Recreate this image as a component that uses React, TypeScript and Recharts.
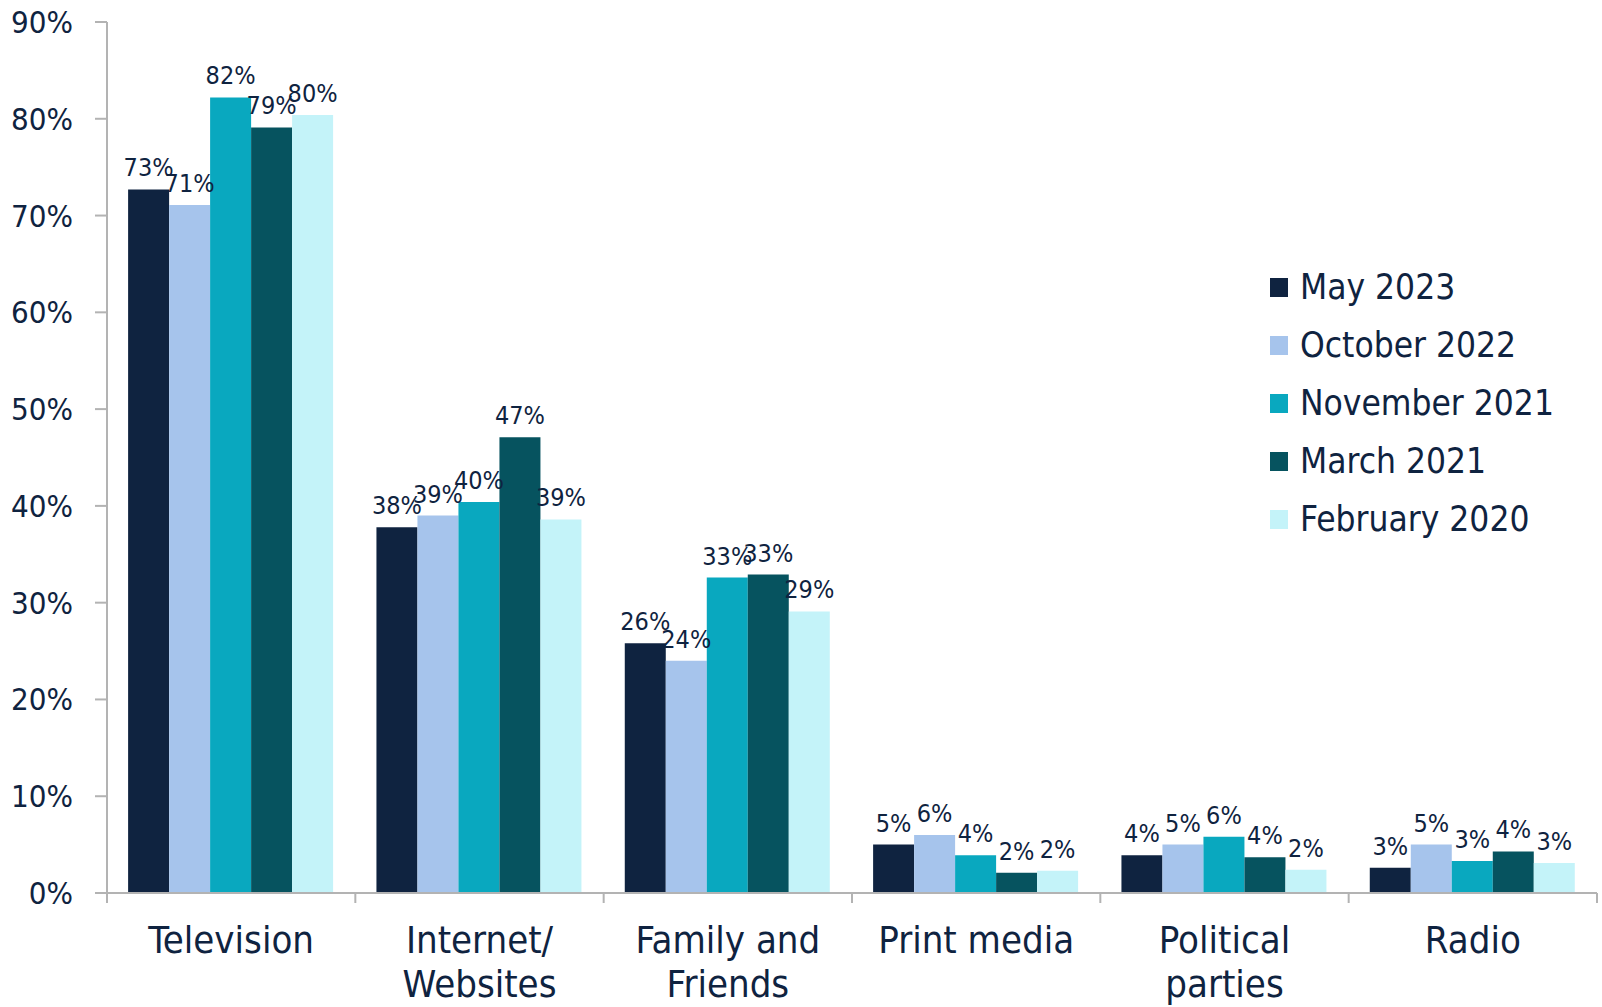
import { BarChart, Bar, XAxis, YAxis, Legend, LabelList } from 'recharts';

const categories = ['Television', 'Internet/\nWebsites', 'Family and\nFriends', 'Print media', 'Political\nparties', 'Radio'];
const may2023 = [72.7, 37.8, 25.8, 5.0, 3.9, 2.6];
const oct2022 = [71.1, 39.0, 24.0, 6.0, 5.0, 5.0];
const nov2021 = [82.2, 40.4, 32.6, 3.9, 5.8, 3.3];
const mar2021 = [79.1, 47.1, 32.9, 2.1, 3.7, 4.3];
const feb2020 = [80.4, 38.6, 29.1, 2.3, 2.4, 3.1];
const yTicks = [0, 10, 20, 30, 40, 50, 60, 70, 80, 90];

const TEXT = '#0f2340';
const AXIS = '#b3b3b3';
const FONT = "'DejaVu Sans Condensed', 'DejaVu Sans', sans-serif";

const series = [
  { key: 'may2023', name: 'May 2023', color: '#0f2340', values: may2023 },
  { key: 'oct2022', name: 'October 2022', color: '#a6c4ec', values: oct2022 },
  { key: 'nov2021', name: 'November 2021', color: '#09a8bf', values: nov2021 },
  { key: 'mar2021', name: 'March 2021', color: '#06535f', values: mar2021 },
  { key: 'feb2020', name: 'February 2020', color: '#c4f3f9', values: feb2020 },
];

const data = categories.map((name, i) => {
  const row: Record<string, string | number> = { name };
  series.forEach((s) => {
    row[s.key] = s.values[i];
  });
  return row;
});

// label plus the small tick marks between categories (Excel style)
const CategoryTick = ({ x, y, payload, index }: any) => {
  const lines = String(payload.value).split('\n');
  const half = payload.offset || 0;
  return (
    <g>
      <line x1={x - half} x2={x - half} y1={y} y2={y + 10} stroke={AXIS} strokeWidth={2} />
      {index === categories.length - 1 && (
        <line x1={x + half} x2={x + half} y1={y} y2={y + 10} stroke={AXIS} strokeWidth={2} />
      )}
      <text x={x} y={y} textAnchor="middle" fill={TEXT} fontSize={38} fontFamily={FONT}>
        {lines.map((line, i) => (
          <tspan key={i} x={x} dy={i === 0 ? 60 : 44}>
            {line}
          </tspan>
        ))}
      </text>
    </g>
  );
};

// keep legend in series order, not alphabetical
const LegendBox = ({ payload }: any) => {
  const items = [...(payload || [])].sort(
    (a: any, b: any) =>
      series.findIndex((s) => s.name === a.value) - series.findIndex((s) => s.name === b.value)
  );
  return (
    <div style={{ fontFamily: FONT }}>
      {items.map((p: any) => (
        <div key={p.value} style={{ display: 'flex', alignItems: 'center', height: 58 }}>
          <span style={{ width: 18, height: 19, background: p.color, marginRight: 12, display: 'inline-block' }} />
          <span style={{ fontSize: 35, color: TEXT, lineHeight: 1 }}>{p.value}</span>
        </div>
      ))}
    </div>
  );
};

export default function App() {
  return (
    <div style={{ position: 'absolute', left: 0, top: 0, fontFamily: FONT, fontStretch: 'condensed' }}>
      <BarChart
        width={1602}
        height={1007}
        data={data}
        margin={{ top: 22, right: 5, bottom: 0, left: 0 }}
        barCategoryGap="8.5%"
        barGap={0}
      >
        <XAxis
          dataKey="name"
          interval={0}
          tickLine={false}
          tickSize={0}
          tickMargin={0}
          axisLine={{ stroke: AXIS, strokeWidth: 2 }}
          tick={<CategoryTick />}
          height={114}
        />
        <YAxis
          domain={[0, 90]}
          ticks={yTicks}
          tickFormatter={(v) => `${v}%`}
          width={107}
          tickSize={12}
          tickMargin={22}
          tickLine={{ stroke: AXIS, strokeWidth: 2 }}
          axisLine={{ stroke: AXIS, strokeWidth: 2 }}
          tick={{ fill: TEXT, fontSize: 31, fontFamily: FONT }}
        />
        <Legend
          layout="horizontal"
          verticalAlign="middle"
          align="center"
          content={<LegendBox />}
          wrapperStyle={{ left: 1270, top: 258, width: 'auto', height: 'auto' }}
        />
        {series.map((s) => (
          <Bar key={s.key} dataKey={s.key} name={s.name} fill={s.color} isAnimationActive={false}>
            <LabelList
              dataKey={s.key}
              position="top"
              offset={13}
              formatter={(v: any) => `${Math.round(Number(v))}%`}
              style={{ fill: TEXT, fontSize: 25, fontFamily: FONT }}
            />
          </Bar>
        ))}
      </BarChart>
    </div>
  );
}
